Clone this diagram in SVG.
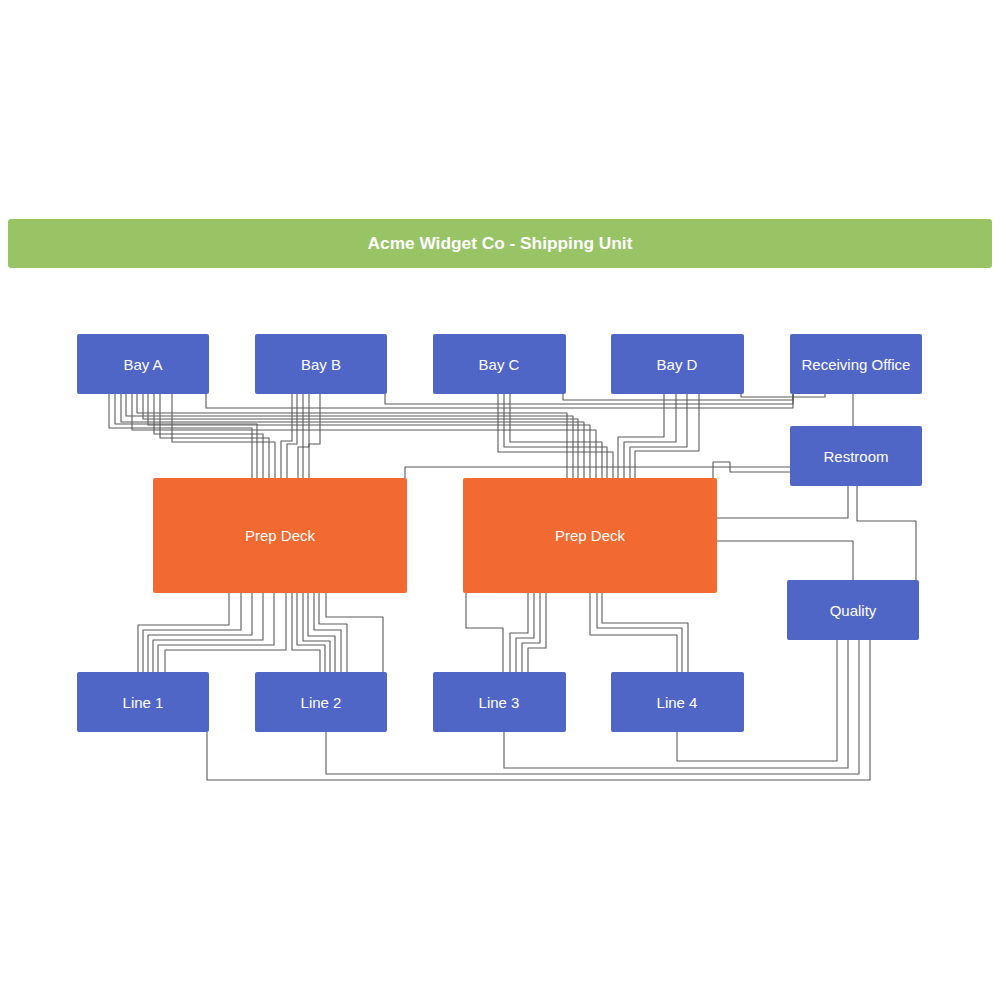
<svg xmlns="http://www.w3.org/2000/svg" width="1000" height="1000" viewBox="0 0 1000 1000">
<style>
.box{fill:#4f66c6;}
.deck{fill:#f26a32;}
.lbl{font-family:"Liberation Sans",Arial,sans-serif;font-size:15px;fill:#ffffff;text-anchor:middle;dominant-baseline:central;}
.ttl{font-family:"Liberation Sans",Arial,sans-serif;font-size:17.3px;font-weight:bold;fill:#ffffff;text-anchor:middle;dominant-baseline:central;}
#connectors path{fill:none;stroke:#5a5a5a;stroke-width:1.1;stroke-linejoin:round;}
</style>
<rect width="1000" height="1000" fill="#ffffff"/>
<g id="title">
<rect x="8" y="219" width="984" height="49" rx="3" fill="#99c465"/>
<text class="ttl" x="500" y="243">Acme Widget Co - Shipping Unit</text>
</g>
<g id="connectors">
<path d="M206 394V408H793V394"/>
<path d="M385 394V404H793V394"/>
<path d="M563 394V400H793V394"/>
<path d="M741 394V397H825V394"/>
<path d="M853 394V426"/>
<path d="M790 467H405V478"/>
<path d="M790 472H730V462H713V478"/>
<path d="M848 486V518H717"/>
<path d="M857 486V521H916V580"/>
<path d="M717 541H853V580"/>
<path d="M837 640V761H677V732"/>
<path d="M848 640V768H504V732"/>
<path d="M859 640V774H326V732"/>
<path d="M870 640V780H207V732"/>
<path d="M229 593V625H138V672"/>
<path d="M241 593V630H143V672"/>
<path d="M252 593V635H148V672"/>
<path d="M263 593V640H153V672"/>
<path d="M274 593V645H158V672"/>
<path d="M286 593V650H165V672"/>
<path d="M292 593V650H320V672"/>
<path d="M297 593V645H325V672"/>
<path d="M303 593V641H330V672"/>
<path d="M308 593V636H335V672"/>
<path d="M314 593V630H341V672"/>
<path d="M319 593V624H347V672"/>
<path d="M326 593V617H383V672"/>
<path d="M466 593V628H503V672"/>
<path d="M528 593V633H510V672"/>
<path d="M534 593V638H516V672"/>
<path d="M540 593V643H522V672"/>
<path d="M546 593V648H528V672"/>
<path d="M590 593V635H677V672"/>
<path d="M597 593V628H682V672"/>
<path d="M602 593V623H688V672"/>
<path d="M109 394V428H252V478"/>
<path d="M115 394V424H257V478"/>
<path d="M154 394V434H263V478"/>
<path d="M160 394V438H269V478"/>
<path d="M172 394V442H275V478"/>
<path d="M137 394V413H567V478"/>
<path d="M126 394V416H573V478"/>
<path d="M143 394V419H578V478"/>
<path d="M121 394V422H584V478"/>
<path d="M148 394V425H590V478"/>
<path d="M132 394V430H596V478"/>
<path d="M292 394V441H281V478"/>
<path d="M297 394V444H287V478"/>
<path d="M303 394V447H298V478"/>
<path d="M309 394V447H303V478"/>
<path d="M320 394V444H309V478"/>
<path d="M510 394V442H602V478"/>
<path d="M504 394V447H607V478"/>
<path d="M498 394V452H613V478"/>
<path d="M664 394V437H618V478"/>
<path d="M676 394V442H624V478"/>
<path d="M687 394V447H630V478"/>
<path d="M699 394V451H635V478"/>
</g>
<g id="bay-a"><rect class="box" x="77" y="334" width="132" height="60" rx="2"/><text class="lbl" x="143" y="364">Bay A</text></g>
<g id="bay-b"><rect class="box" x="255" y="334" width="132" height="60" rx="2"/><text class="lbl" x="321" y="364">Bay B</text></g>
<g id="bay-c"><rect class="box" x="433" y="334" width="133" height="60" rx="2"/><text class="lbl" x="499" y="364">Bay C</text></g>
<g id="bay-d"><rect class="box" x="611" y="334" width="133" height="60" rx="2"/><text class="lbl" x="677" y="364">Bay D</text></g>
<g id="receiving-office"><rect class="box" x="790" y="334" width="132" height="60" rx="2"/><text class="lbl" x="856" y="364">Receiving Office</text></g>
<g id="restroom"><rect class="box" x="790" y="426" width="132" height="60" rx="2"/><text class="lbl" x="856" y="456">Restroom</text></g>
<g id="prep-deck-1"><rect class="deck" x="153" y="478" width="254" height="115" rx="2"/><text class="lbl" x="280" y="535">Prep Deck</text></g>
<g id="prep-deck-2"><rect class="deck" x="463" y="478" width="254" height="115" rx="2"/><text class="lbl" x="590" y="535">Prep Deck</text></g>
<g id="quality"><rect class="box" x="787" y="580" width="132" height="60" rx="2"/><text class="lbl" x="853" y="610">Quality</text></g>
<g id="line-1"><rect class="box" x="77" y="672" width="132" height="60" rx="2"/><text class="lbl" x="143" y="702">Line 1</text></g>
<g id="line-2"><rect class="box" x="255" y="672" width="132" height="60" rx="2"/><text class="lbl" x="321" y="702">Line 2</text></g>
<g id="line-3"><rect class="box" x="433" y="672" width="133" height="60" rx="2"/><text class="lbl" x="499" y="702">Line 3</text></g>
<g id="line-4"><rect class="box" x="611" y="672" width="133" height="60" rx="2"/><text class="lbl" x="677" y="702">Line 4</text></g>
</svg>
